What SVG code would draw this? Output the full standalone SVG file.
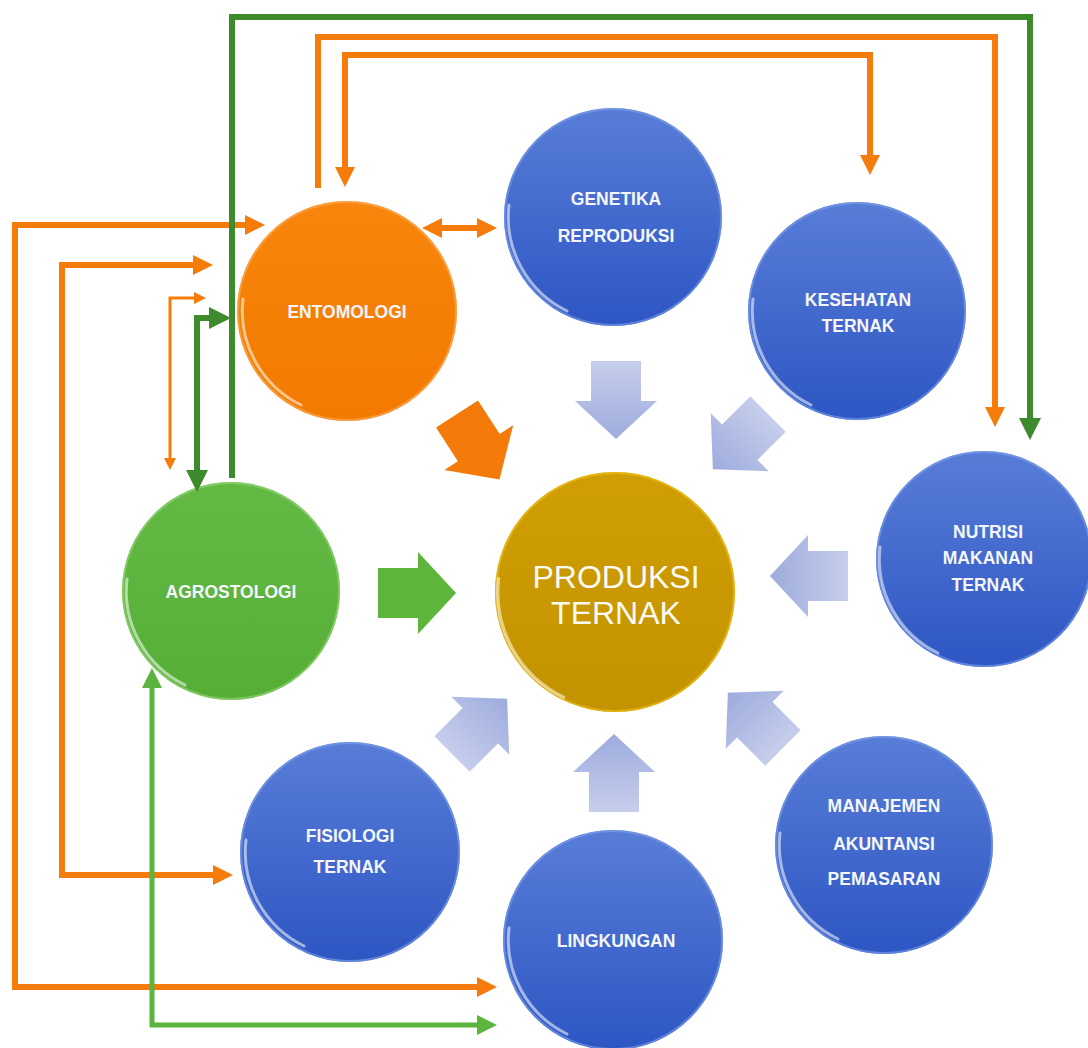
<svg xmlns="http://www.w3.org/2000/svg" width="1088" height="1048" viewBox="0 0 1088 1048">
<style>
.lbl{font-family:"Liberation Sans",Arial,sans-serif;font-weight:bold;font-size:17.5px;fill:#F4F6FB;text-anchor:middle}
.big{font-family:"Liberation Sans",Arial,sans-serif;font-size:32px;fill:#FAFAF5;text-anchor:middle}
.hl{fill:none;stroke:#ffffff;stroke-width:3;stroke-opacity:0.55;stroke-linecap:round}
.rim{fill:none;stroke-width:2;stroke-opacity:0.6}
.co{fill:none;stroke:#F57C0A;stroke-width:6;stroke-linejoin:miter}
.cot{fill:none;stroke:#F57C0A;stroke-width:3}
.cg{fill:none;stroke:#3D8B2C;stroke-width:6}
.clg{fill:none;stroke:#5BB43E;stroke-width:5}
</style>
<defs>
<linearGradient id="gBlue" x1="0" y1="0" x2="0" y2="1">
<stop offset="0" stop-color="#587DD8"/><stop offset="1" stop-color="#2E56C3"/>
</linearGradient>
<linearGradient id="gOrange" x1="0" y1="0" x2="0" y2="1">
<stop offset="0" stop-color="#F8850C"/><stop offset="1" stop-color="#F37A00"/>
</linearGradient>
<linearGradient id="gGreen" x1="0" y1="0" x2="0" y2="1">
<stop offset="0" stop-color="#63B944"/><stop offset="1" stop-color="#56AE37"/>
</linearGradient>
<linearGradient id="gGold" x1="0" y1="0" x2="0" y2="1">
<stop offset="0" stop-color="#D09E04"/><stop offset="1" stop-color="#C39300"/>
</linearGradient>
<linearGradient id="gArrow" x1="0" y1="0" x2="1" y2="0">
<stop offset="0" stop-color="#C6CEEC"/><stop offset="1" stop-color="#9EACDD"/>
</linearGradient>
<path id="blk" d="M0,-25 L40,-25 L40,-41 L78,0 L40,41 L40,25 L0,25 Z"/>
<path id="hlArc" d="M-46,94 A104.5,104.5 0 0 1 -104,-12"/>
<marker id="mO" viewBox="0 0 20 20" refX="2" refY="10" markerWidth="20" markerHeight="20" markerUnits="userSpaceOnUse" orient="auto-start-reverse">
<path d="M0,0 L20,10 L0,20 Z" fill="#F57C0A"/>
</marker>
<marker id="mOt" viewBox="0 0 12 12" refX="1" refY="6" markerWidth="12" markerHeight="12" markerUnits="userSpaceOnUse" orient="auto-start-reverse">
<path d="M0,0 L12,6 L0,12 Z" fill="#F57C0A"/>
</marker>
<marker id="mG" viewBox="0 0 22 22" refX="2" refY="11" markerWidth="22" markerHeight="22" markerUnits="userSpaceOnUse" orient="auto-start-reverse">
<path d="M0,0 L22,11 L0,22 Z" fill="#3D8B2C"/>
</marker>
<marker id="mLG" viewBox="0 0 20 20" refX="2" refY="10" markerWidth="20" markerHeight="20" markerUnits="userSpaceOnUse" orient="auto-start-reverse">
<path d="M0,0 L20,10 L0,20 Z" fill="#5BB43E"/>
</marker>
</defs>
<rect width="1088" height="1048" fill="#ffffff"/>

<g id="flow-arrows">
<use href="#blk" fill="url(#gArrow)" transform="translate(616,361) rotate(90)"/>
<use href="#blk" fill="url(#gArrow)" transform="translate(768,414) rotate(135)"/>
<use href="#blk" fill="url(#gArrow)" transform="translate(848,576) rotate(180)"/>
<use href="#blk" fill="url(#gArrow)" transform="translate(783,748) rotate(225)"/>
<use href="#blk" fill="url(#gArrow)" transform="translate(614,812) rotate(270)"/>
<use href="#blk" fill="url(#gArrow)" transform="translate(452,754) rotate(-45)"/>
<use href="#blk" fill="#5DB53C" transform="translate(378,593)"/>
<use href="#blk" fill="#F47B0A" transform="translate(457,414) rotate(57)"/>
</g>

<g id="node-entomologi" transform="translate(347,311)">
<circle r="110" fill="url(#gOrange)"/>
<circle r="109" class="rim" stroke="#FBB060"/>
<use href="#hlArc" class="hl"/>
<text class="lbl" x="0" y="6.5" font-size="18">ENTOMOLOGI</text>
</g>
<g id="node-genetika" transform="translate(613,217)">
<circle r="109" fill="url(#gBlue)"/>
<circle r="108" class="rim" stroke="#7FA0EA"/>
<use href="#hlArc" class="hl"/>
<text class="lbl" x="3" y="-12">GENETIKA</text>
<text class="lbl" x="3" y="24.5">REPRODUKSI</text>
</g>
<g id="node-kesehatan" transform="translate(857,311)">
<circle r="109" fill="url(#gBlue)"/>
<circle r="108" class="rim" stroke="#7FA0EA"/>
<use href="#hlArc" class="hl"/>
<text class="lbl" x="1" y="-5.5">KESEHATAN</text>
<text class="lbl" x="1" y="20.5">TERNAK</text>
</g>
<g id="node-nutrisi" transform="translate(984,559)">
<circle r="108" fill="url(#gBlue)"/>
<circle r="107" class="rim" stroke="#7FA0EA"/>
<use href="#hlArc" class="hl"/>
<text class="lbl" x="4" y="-21.5">NUTRISI</text>
<text class="lbl" x="4" y="4.5">MAKANAN</text>
<text class="lbl" x="4" y="31.5">TERNAK</text>
</g>
<g id="node-produksi" transform="translate(615,592)">
<circle r="120" fill="url(#gGold)"/>
<circle r="119" class="rim" stroke="#F2C416"/>
<use href="#hlArc" class="hl" transform="scale(1.12)"/>
<text class="big" x="1" y="-4">PRODUKSI</text>
<text class="big" x="1" y="32">TERNAK</text>
</g>
<g id="node-agrostologi" transform="translate(231,591)">
<circle r="109" fill="url(#gGreen)"/>
<circle r="108" class="rim" stroke="#9AD77E"/>
<use href="#hlArc" class="hl"/>
<text class="lbl" x="0" y="6.5" font-size="18">AGROSTOLOGI</text>
</g>
<g id="node-fisiologi" transform="translate(350,852)">
<circle r="110" fill="url(#gBlue)"/>
<circle r="109" class="rim" stroke="#7FA0EA"/>
<use href="#hlArc" class="hl"/>
<text class="lbl" x="0" y="-10">FISIOLOGI</text>
<text class="lbl" x="0" y="21">TERNAK</text>
</g>
<g id="node-lingkungan" transform="translate(613,940)">
<circle r="110" fill="url(#gBlue)"/>
<circle r="109" class="rim" stroke="#7FA0EA"/>
<use href="#hlArc" class="hl"/>
<text class="lbl" x="3" y="6.5" font-size="18">LINGKUNGAN</text>
</g>
<g id="node-manajemen" transform="translate(884,845)">
<circle r="109" fill="url(#gBlue)"/>
<circle r="108" class="rim" stroke="#7FA0EA"/>
<use href="#hlArc" class="hl"/>
<text class="lbl" x="0" y="-33.5">MANAJEMEN</text>
<text class="lbl" x="0" y="4.5">AKUNTANSI</text>
<text class="lbl" x="0" y="39.5">PEMASARAN</text>
</g>

<g id="connectors">
<path class="co" d="M247,225 H15 V987 H479" marker-start="url(#mO)" marker-end="url(#mO)"/>
<path class="co" d="M195,265 H62 V875 H215" marker-start="url(#mO)" marker-end="url(#mO)"/>
<path class="cot" d="M195,298 H170 V459" marker-start="url(#mOt)" marker-end="url(#mOt)"/>
<path class="co" d="M318,188 V37 H995 V409" marker-end="url(#mO)"/>
<path class="co" d="M345,169 V55 H870 V157" marker-start="url(#mO)" marker-end="url(#mO)"/>
<path class="co" d="M440,228 H479" marker-start="url(#mO)" marker-end="url(#mO)"/>
<path class="cg" d="M232,478 V17 H1030 V420" marker-end="url(#mG)"/>
<path class="cg" d="M211,318 H197 V472" marker-start="url(#mG)" marker-end="url(#mG)"/>
<path class="clg" d="M152,686 V1025 H479" marker-start="url(#mLG)" marker-end="url(#mLG)"/>
</g>
</svg>
